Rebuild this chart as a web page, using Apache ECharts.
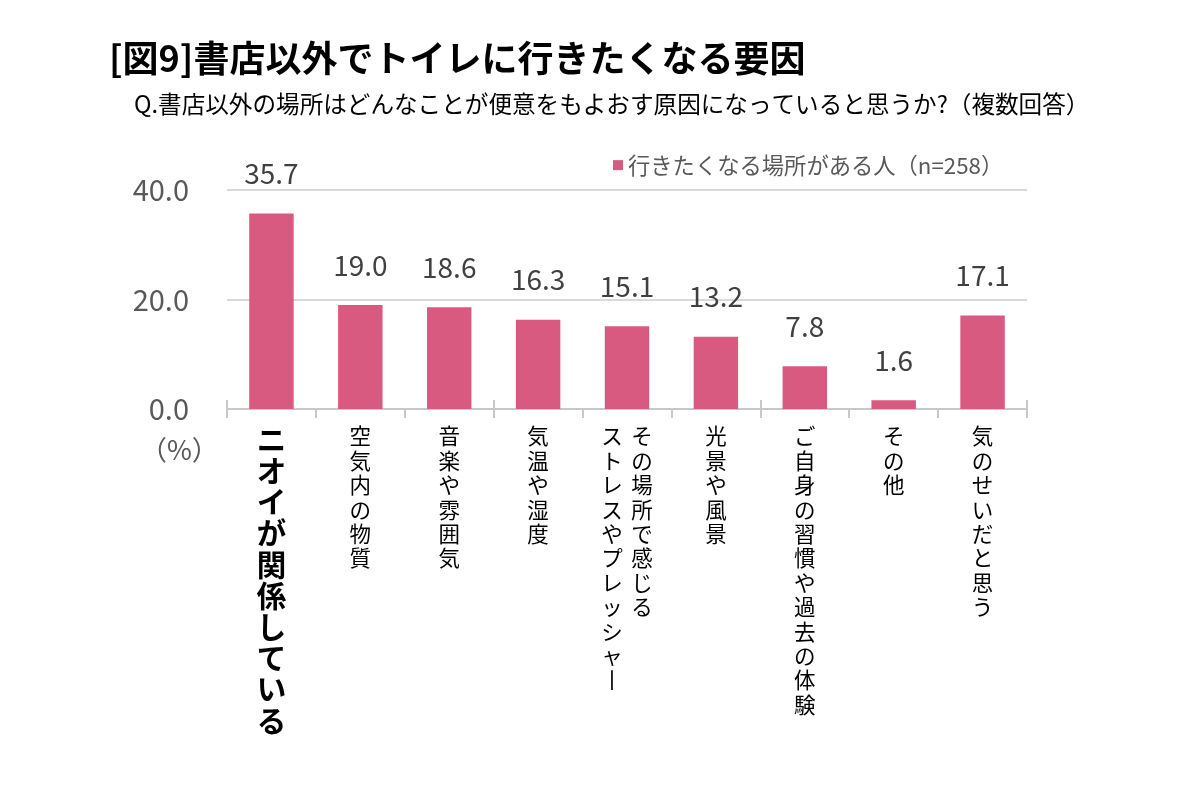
<!DOCTYPE html>
<html>
<head>
<meta charset="utf-8">
<script src="https://cdn.jsdelivr.net/npm/echarts@6/dist/echarts.min.js"></script>
<style>html,body{margin:0;padding:0;background:#fff;}#c{width:1200px;height:800px;}</style>
</head>
<body>
<div id="c"></div>
<script>
const titleText = '[図9]書店以外でトイレに行きたくなる要因';
const subtitleText = 'Q.書店以外の場所はどんなことが便意をもよおす原因になっていると思うか?（複数回答）';
const seriesName = '行きたくなる場所がある人（n=258）';
const categories = ['ニオイが関係している','空気内の物質','音楽や雰囲気','気温や湿度','その場所で感じる\nストレスやプレッシャー','光景や風景','ご自身の習慣や過去の体験','その他','気のせいだと思う'];
const values = [35.7, 19.0, 18.6, 16.3, 15.1, 13.2, 7.8, 1.6, 17.1];
const yMin = 0, yMax = 40, yStep = 20;
const unitLabel = '（%）';

const FONT = '"Noto Sans CJK JP", "Noto Sans", sans-serif';

function verticalLabel(label, idx) {
  const style = idx === 0 ? 'big' : 'n';
  const cols = label.split('\n').map(s => Array.from(s.replace(/ー/g, '丨')));
  const ordered = cols.slice().reverse(); // leftmost column first
  const rows = Math.max(...cols.map(c => c.length));
  const out = [];
  for (let r = 0; r < rows; r++) {
    out.push(ordered.map(c => '{' + style + '|' + (c[r] || '　') + '}').join(''));
  }
  return out.join('\n');
}

const chart = echarts.init(document.getElementById('c'), null, {renderer: 'canvas'});
chart.setOption({
  backgroundColor: '#ffffff',
  animation: false,
  textStyle: {fontFamily: FONT},
  title: [
    {text: titleText, left: 109, top: 40, padding: 0,
     textStyle: {fontSize: 36, fontWeight: 'bold', color: '#000', fontFamily: FONT}},
    {text: subtitleText, left: 134, top: 92, padding: 0,
     textStyle: {fontSize: 23.6, fontWeight: 'normal', color: '#000', fontFamily: FONT}}
  ],
  legend: {
    left: 613, top: 154, padding: 0,
    icon: 'rect', itemWidth: 10, itemHeight: 10, itemGap: 4,
    textStyle: {fontSize: 22.3, color: '#595959', fontFamily: FONT},
    data: [seriesName]
  },
  graphic: [{
    type: 'text', left: 140, top: 436,
    style: {text: unitLabel, fontSize: 27, fill: '#595959', fontFamily: FONT}
  }],
  grid: {left: 227, right: 173, top: 190, bottom: 391, containLabel: false},
  xAxis: [{
    type: 'category', data: categories, position: 'bottom',
    axisLine: {show: true, lineStyle: {color: '#c8c8c8', width: 2}},
    axisTick: {show: true, length: 9, lineStyle: {color: '#c8c8c8', width: 2}},
    axisLabel: {
      interval: 0, margin: 15, verticalAlign: 'top',
      formatter: verticalLabel,
      rich: {
        n: {fontSize: 21.5, lineHeight: 24.4, width: 30, align: 'center', color: '#000', fontFamily: FONT},
        big: {fontSize: 29.5, lineHeight: 31.2, width: 34, align: 'center', color: '#000', fontWeight: 'bold', fontFamily: FONT}
      }
    }
  }, {
    type: 'category', data: categories, position: 'bottom', offset: 0,
    axisLine: {show: false},
    axisTick: {show: true, inside: true, length: 9, lineStyle: {color: '#c8c8c8', width: 2}},
    axisLabel: {show: false}
  }],
  yAxis: {
    type: 'value', min: yMin, max: yMax, interval: yStep,
    axisLine: {show: false}, axisTick: {show: false},
    splitLine: {lineStyle: {color: '#d9d9d9', width: 2}},
    axisLabel: {fontSize: 29, color: '#595959', margin: 38, fontFamily: FONT,
      formatter: v => v.toFixed(1)}
  },
  series: [{
    name: seriesName, type: 'bar', data: values, barWidth: '50%',
    itemStyle: {color: '#D95A80'},
    label: {show: true, position: 'top', distance: 26, fontSize: 28, color: '#404040', fontFamily: FONT,
      formatter: p => p.value.toFixed(1)}
  }]
});
</script>
</body>
</html>
